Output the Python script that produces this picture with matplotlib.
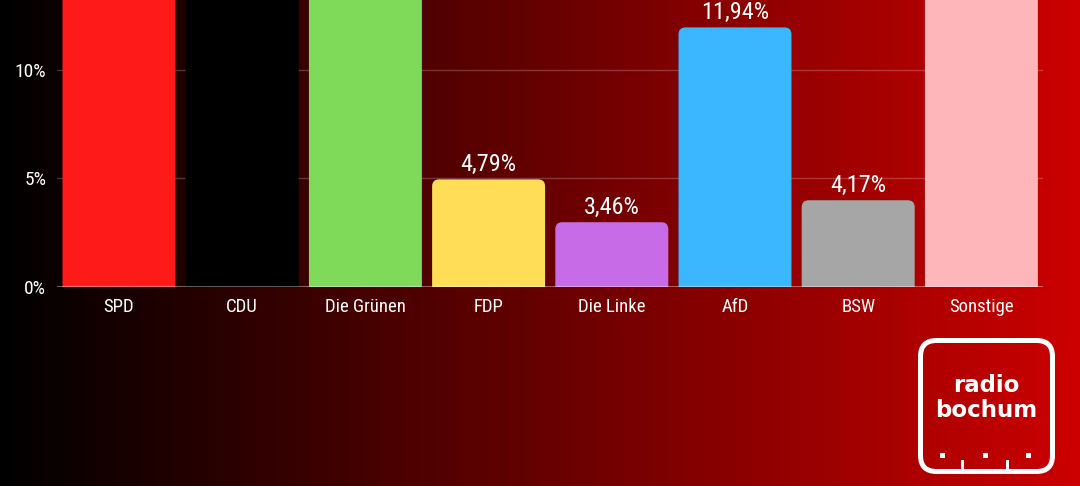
import matplotlib
matplotlib.use('Agg')
import matplotlib.pyplot as plt
from matplotlib.patches import FancyBboxPatch, Rectangle
import numpy as np

# Data (heights, labels as printed)
parties = ['SPD', 'CDU', 'Die Grünen', 'FDP', 'Die Linke', 'AfD', 'BSW', 'Sonstige']
shares = [23.5, 23.0, 14.5, 4.95, 2.98, 11.94, 3.99, 14.7]
share_labels = ['23,50%', '23,00%', '14,50%', '4,79%', '3,46%', '11,94%', '4,17%', '14,70%']
colors = ['#ff1a1a', '#000000', '#80da5a', '#ffdd57', '#c86be6', '#3bb7ff', '#a6a6a6', '#ffb6ba']
yticks = [0, 5, 10]
ytick_labels = ['0%', '5%', '10%']

W, H = 1080, 486
plt.rcParams['font.family'] = ['Roboto Condensed', 'Liberation Sans Narrow', 'DejaVu Sans']
plt.rcParams['font.stretch'] = 'condensed'

fig = plt.figure(figsize=(W / 100, H / 100), dpi=100)

# gradient background black -> red
bg = fig.add_axes([0, 0, 1, 1], zorder=-1)
grad = np.linspace(0, 1, 512)
img = np.zeros((1, 512, 3))
img[0, :, 0] = grad * 0.80
bg.imshow(img, aspect='auto', extent=[0, 1, 0, 1])
bg.set_axis_off()

left, right, bottom = 57.4 / W, 1043 / W, (H - 287) / H
ax = fig.add_axes([left, bottom, right - left, 1 - bottom])
ax.set_facecolor('none')
ymax = 13.2
ax.set_xlim(-0.5, len(parties) - 0.5)
ax.set_ylim(0, ymax)

for s in ax.spines.values():
    s.set_visible(False)
ax.set_yticks(yticks)
ax.set_yticklabels(ytick_labels)
ax.set_xticks(range(len(parties)))
ax.set_xticklabels(parties)
ax.tick_params(length=0, colors='white')
ax.tick_params(axis='y', pad=8, labelsize=14)
ax.tick_params(axis='x', pad=8, labelsize=13.5)
ax.yaxis.grid(True, color='white', alpha=0.22, lw=1)
ax.set_axisbelow(True)

# rounded top bars
ax_w = (right - left) * W
ax_h = (1 - bottom) * H
px_x = ax_w / len(parties)
px_y = ax_h / ymax
r = 7
bw = 0.917
for i, (v, c, lab) in enumerate(zip(shares, colors, share_labels)):
    p = FancyBboxPatch((i - bw / 2, -1), bw, v + 1,
                       boxstyle='round,pad=0,rounding_size=%f' % (r / px_x),
                       mutation_aspect=px_x / px_y,
                       facecolor=c, edgecolor='none', zorder=2)
    ax.add_patch(p)
    ax.annotate(lab, (i, v), xytext=(0, 8), textcoords='offset pixels',
                ha='center', va='baseline', color='white', fontsize=17.5)

ax.axhline(0, color='white', alpha=0.35, lw=1.5, zorder=3)

# logo
def fx(x):
    return x / W

def fy(y):
    return 1 - y / H

box = FancyBboxPatch((fx(920.5), fy(471.5)), fx(1052.5) - fx(920.5), fy(340.5) - fy(471.5),
                     boxstyle='round,pad=0,rounding_size=%f' % fx(16),
                     mutation_aspect=(1 / H) / (1 / W),
                     transform=fig.transFigure, facecolor='none',
                     edgecolor='white', lw=3.6)
fig.add_artist(box)
fig.text(fx(986), fy(392), 'radio', ha='center', va='baseline', color='white',
         fontsize=16.5, fontweight='bold', family='DejaVu Sans', stretch='normal')
fig.text(fx(986), fy(417), 'bochum', ha='center', va='baseline', color='white',
         fontsize=16.5, fontweight='bold', family='DejaVu Sans', stretch='normal')
for x in [940, 983, 1026]:
    fig.add_artist(Rectangle((fx(x), fy(458)), fx(5), 5 / H, transform=fig.transFigure,
                             facecolor='white', edgecolor='none'))
for x in [961, 1006]:
    fig.add_artist(Rectangle((fx(x), fy(472)), fx(3), 12 / H, transform=fig.transFigure,
                             facecolor='white', edgecolor='none'))

fig.savefig('out.png', dpi=100)
